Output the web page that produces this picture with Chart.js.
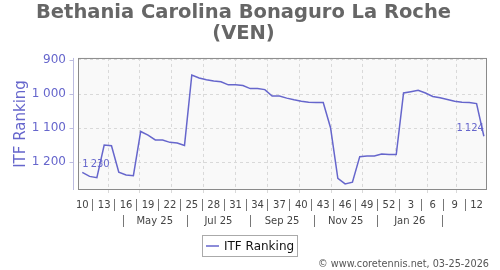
<!DOCTYPE html>
<html>
<head>
<meta charset="utf-8">
<script src="https://cdn.jsdelivr.net/npm/chart.js@4.4.1/dist/chart.umd.min.js"></script>
<style>
html, body { margin: 0; padding: 0; background: #fff; }
#wrap { width: 500px; height: 270px; }
</style>
</head>
<body>
<div id="wrap"><canvas id="rankChart" width="500" height="270"></canvas></div>
<script>
// ITF ranking, one point per week (week 10 of 2025 .. week 13 of 2026)
const WEEKS = [10, 11, 12, 13, 14, 15, 16, 17, 18, 19, 20, 21, 22, 23, 24, 25, 26, 27, 28, 29, 30,
    31, 32, 33, 34, 35, 36, 37, 38, 39, 40, 41, 42, 43, 44, 45, 46, 47, 48, 49, 50, 51, 52,
    1, 2, 3, 4, 5, 6, 7, 8, 9, 10, 11, 12, 13];
const RANKINGS = [1230, 1242, 1246, 1150, 1152, 1230, 1238, 1240, 1110, 1121, 1135, 1135, 1142, 1144, 1151,
    944, 953, 958, 962, 964, 973, 973, 975, 984, 984, 987, 1006, 1006, 1012, 1017, 1021, 1024, 1025, 1025,
    1099, 1248, 1264, 1259, 1184, 1182, 1182, 1176, 1178, 1178,
    997, 993, 989, 997, 1007, 1011, 1016, 1021, 1024, 1025, 1028, 1124];
const Y_TICKS = [900, 1000, 1100, 1200];
const FIRST_WEEK_DATE = '2025-03-07';
const MONTH_GRID_DATES = ['2025-04-01', '2025-05-01', '2025-06-01', '2025-07-01', '2025-08-01', '2025-09-01',
    '2025-10-01', '2025-11-01', '2025-12-01', '2026-01-01', '2026-02-01', '2026-03-01'];
const MONTH_LABELS = ['May 25', 'Jul 25', 'Sep 25', 'Nov 25', 'Jan 26'];
const MONTH_SEPARATOR_DATES = ['2025-04-15', '2025-06-15', '2025-08-15', '2025-10-15', '2025-12-15', '2026-02-15'];

const FONT = 'DejaVu Sans';
const LINE_COLOR = '#6666cc';
const GRID_COLOR = '#d9d9d9';

const dayOf = (d) => (Date.parse(d) - Date.parse(FIRST_WEEK_DATE)) / 86400000;
const fmt = (v) => String(v).replace(/\B(?=(\d{3})+(?!\d))/g, ' ');
const narrow = (v) => String(v).replace(/\B(?=(\d{3})+(?!\d))/g, '\u2009');

const points = RANKINGS.map((r, i) => ({ x: i * 7, y: r }));

const decorations = {
    id: 'decorations',
    beforeDraw(chart) {
        const { ctx, chartArea: a } = chart;
        ctx.save();
        ctx.fillStyle = '#f9f9f9';
        ctx.fillRect(a.left, a.top, a.right - a.left, a.bottom - a.top);
        ctx.restore();
    },
    afterDraw(chart) {
        const { ctx, chartArea: a, scales: { x, y } } = chart;
        ctx.save();

        // plot frame
        ctx.strokeStyle = '#8a8a8a';
        ctx.lineWidth = 1;
        ctx.strokeRect(a.left + 0.5, a.top + 0.5, a.right - a.left - 1, a.bottom - a.top - 1);

        // detached y axis line with small ticks
        const ax = a.left - 4.5;
        ctx.strokeStyle = '#bcbce0';
        ctx.beginPath();
        ctx.moveTo(ax, a.top);
        ctx.lineTo(ax, a.bottom);
        Y_TICKS.forEach((v) => {
            const py = Math.round(y.getPixelForValue(v)) + 0.5;
            ctx.moveTo(ax - 4, py);
            ctx.lineTo(ax, py);
        });
        ctx.stroke();

        // week labels every third week
        ctx.font = '10px "' + FONT + '"';
        ctx.fillStyle = '#444';
        ctx.textAlign = 'center';
        ctx.textBaseline = 'middle';
        ctx.strokeStyle = '#777';
        ctx.beginPath();
        for (let i = 0; i < WEEKS.length; i += 3) {
            ctx.fillText(String(WEEKS[i]), x.getPixelForValue(i * 7), a.bottom + 15);
            if (i + 3 < WEEKS.length) {
                const sx = Math.round(x.getPixelForValue(i * 7 + 9.5)) + 0.5;
                ctx.moveTo(sx, a.bottom + 9);
                ctx.lineTo(sx, a.bottom + 21);
            }
        }
        // month row
        MONTH_SEPARATOR_DATES.forEach((d) => {
            const sx = Math.round(x.getPixelForValue(dayOf(d))) + 0.5;
            ctx.moveTo(sx, a.bottom + 25);
            ctx.lineTo(sx, a.bottom + 37);
        });
        ctx.stroke();
        MONTH_LABELS.forEach((lbl, k) => {
            const mx = (x.getPixelForValue(dayOf(MONTH_SEPARATOR_DATES[k])) +
                x.getPixelForValue(dayOf(MONTH_SEPARATOR_DATES[k + 1]))) / 2;
            ctx.fillText(lbl, mx, a.bottom + 31);
        });

        // first / last value labels
        ctx.fillStyle = LINE_COLOR;
        const first = points[0];
        const last = points[points.length - 1];
        ctx.textAlign = 'left';
        ctx.fillText(narrow(first.y), x.getPixelForValue(first.x), y.getPixelForValue(first.y) - 8);
        ctx.textAlign = 'right';
        ctx.fillText(narrow(last.y), x.getPixelForValue(last.x), y.getPixelForValue(last.y) - 8);

        // legend
        ctx.strokeStyle = '#aaa';
        ctx.strokeRect(202.5, 235.5, 95, 21);
        ctx.strokeStyle = LINE_COLOR;
        ctx.lineWidth = 1.5;
        ctx.beginPath();
        ctx.moveTo(206, 246);
        ctx.lineTo(219, 246);
        ctx.stroke();
        ctx.font = '12px "' + FONT + '"';
        ctx.fillStyle = '#111';
        ctx.textAlign = 'left';
        ctx.fillText(chart.data.datasets[0].label, 224, 246.5);

        // credit
        ctx.font = '9.7px "' + FONT + '"';
        ctx.fillStyle = '#555';
        ctx.textAlign = 'right';
        ctx.fillText('\u00a9 www.coretennis.net, 03-25-2026', 489, 264);

        ctx.restore();
    },
};

const ctx = document.getElementById('rankChart').getContext('2d');
const rankChart = new Chart(ctx, {
    type: 'line',
    data: {
        datasets: [{
            label: 'ITF Ranking',
            data: points,
            borderColor: LINE_COLOR,
            borderWidth: 1.5,
            pointRadius: 0,
            tension: 0,
            fill: false,
        }],
    },
    options: {
        responsive: false,
        animation: false,
        devicePixelRatio: 1,
        layout: { padding: { top: 0, right: 13, bottom: 77, left: 0 } },
        plugins: {
            legend: { display: false },
            tooltip: { enabled: false },
            title: {
                display: true,
                text: ['Bethania Carolina Bonaguro La Roche', '(VEN)'],
                color: '#666',
                font: { family: FONT, size: 19.5, weight: 'bold', lineHeight: 1.05 },
                padding: { top: 3, bottom: 14 },
            },
        },
        scales: {
            x: {
                type: 'linear',
                min: -4.1,
                max: 388,
                afterBuildTicks: (s) => { s.ticks = MONTH_GRID_DATES.map((d) => ({ value: dayOf(d) })); },
                ticks: { display: false },
                grid: { color: GRID_COLOR, tickLength: 3, tickColor: GRID_COLOR },
                border: { display: false, dash: [3, 3] },
            },
            y: {
                type: 'linear',
                reverse: true,
                min: 894,
                max: 1282,
                afterBuildTicks: (s) => { s.ticks = Y_TICKS.map((v) => ({ value: v })); },
                afterFit: (s) => { s.width = 78; },
                ticks: { color: LINE_COLOR, font: { family: FONT, size: 12 }, padding: 12, callback: fmt },
                grid: { color: GRID_COLOR, drawTicks: false },
                border: { display: false, dash: [3, 3] },
                title: {
                    display: true,
                    text: 'ITF Ranking',
                    color: LINE_COLOR,
                    font: { family: FONT, size: 15 },
                    padding: { top: 12, bottom: 0 },
                },
            },
        },
    },
    plugins: [decorations],
});
</script>
</body>
</html>
